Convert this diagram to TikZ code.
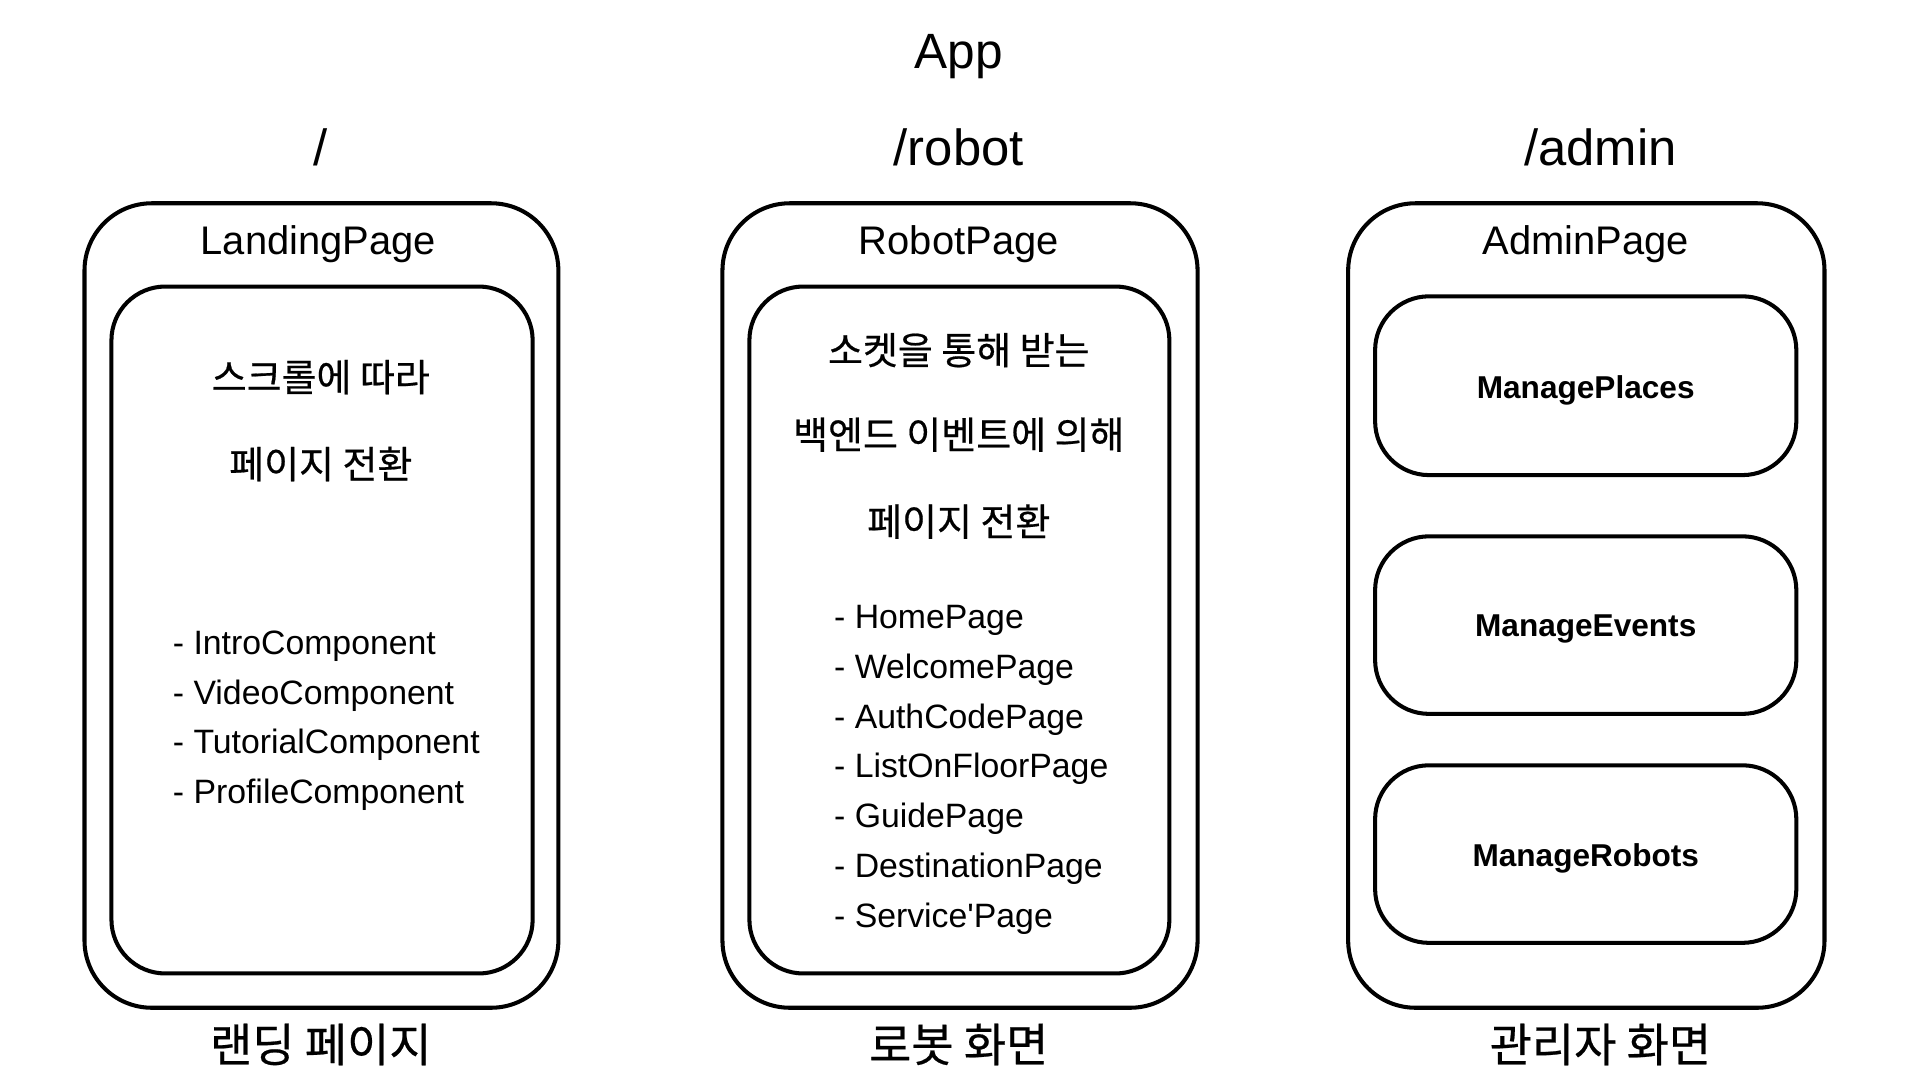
\documentclass[tikz,border=0pt]{standalone}
\usepackage{fontspec}
\setmainfont{Liberation Sans}[Ligatures=TeXOff]
\newfontfamily\kr{Noto Sans CJK KR}[FakeBold=0.5]
\begin{document}
\begin{tikzpicture}[x=1pt,y=-1pt,
  outerbox/.style={draw, line width=3.3pt, rounded corners=55pt, inner sep=0pt},
  innerbox/.style={draw, line width=3.3pt, rounded corners=44pt, inner sep=0pt},
  apptxt/.style={anchor=base, inner sep=0pt, font=\fontsize{40.5}{48}\selectfont},
  routetxt/.style={anchor=base, inner sep=0pt, font=\fontsize{41.5}{49}\selectfont},
  titletxt/.style={anchor=base, inner sep=0pt, font=\fontsize{32.6}{39}\selectfont},
  krtxt/.style={anchor=center, inner sep=0pt, font=\kr\fontsize{31}{37}\selectfont},
  krlabel/.style={anchor=center, inner sep=0pt, font=\kr\fontsize{37.5}{44}\selectfont},
  itemtxt/.style={anchor=base west, inner sep=0pt, font=\fontsize{27.6}{33}\selectfont},
  boldtxt/.style={anchor=center, inner sep=0pt, font=\bfseries\fontsize{25.8}{31}\selectfont}
]
\useasboundingbox (0,0) rectangle (1568,882);

% title
\node[apptxt] (app) at (783,56) {App};
\node[routetxt] (rroot) at (262,135) {/};
\node[routetxt] (rrobot) at (783,135) {/robot};
\node[routetxt] (radmin) at (1307,135) {/admin};

% column 1
\node[outerbox, minimum width=387pt, minimum height=657pt] (lpOuter) at (262.5,494.5) {};
\node[innerbox, minimum width=344pt, minimum height=561pt] (lpInner) at (263,514.5) {};
\node[titletxt] (lpTitle) at (260,208) {LandingPage};
\node[krtxt] (lpK1) at (262,308) {스크롤에 따라};
\node[krtxt] (lpK2) at (262,379) {페이지 전환};
\node[itemtxt] (lpI1) at (141,534.5) {- IntroComponent};
\node[itemtxt] (lpI2) at (141,575.1) {- VideoComponent};
\node[itemtxt] (lpI3) at (141,615.7) {- TutorialComponent};
\node[itemtxt] (lpI4) at (141,656.3) {- ProfileComponent};
\node[krlabel] (lpLabel) at (262,853) {랜딩 페이지};

% column 2
\node[outerbox, minimum width=388pt, minimum height=657pt] (rpOuter) at (784,494.5) {};
\node[innerbox, minimum width=343pt, minimum height=561pt] (rpInner) at (783.5,514.5) {};
\node[titletxt] (rpTitle) at (783,208) {RobotPage};
\node[krtxt] (rpK1) at (783,286) {소켓을 통해 받는};
\node[krtxt] (rpK2) at (783,355) {백엔드 이벤트에 의해};
\node[krtxt] (rpK3) at (783,426) {페이지 전환};
\node[itemtxt] (rpI1) at (681,513.5) {- HomePage};
\node[itemtxt] (rpI2) at (681,554.1) {- WelcomePage};
\node[itemtxt] (rpI3) at (681,594.7) {- AuthCodePage};
\node[itemtxt] (rpI4) at (681,635.3) {- ListOnFloorPage};
\node[itemtxt] (rpI5) at (681,675.9) {- GuidePage};
\node[itemtxt] (rpI6) at (681,716.5) {- DestinationPage};
\node[itemtxt] (rpI7) at (681,757.1) {- Service'Page};
\node[krlabel] (rpLabel) at (783,853) {로봇 화면};

% column 3
\node[outerbox, minimum width=389pt, minimum height=657pt] (apOuter) at (1295.5,494.5) {};
\node[titletxt] (apTitle) at (1295,208) {AdminPage};
\node[innerbox, minimum width=344pt, minimum height=146pt] (apPlaces) at (1295,315) {};
\node[innerbox, minimum width=344pt, minimum height=145pt] (apEvents) at (1295,510.5) {};
\node[innerbox, minimum width=344pt, minimum height=145pt] (apRobots) at (1295,697.5) {};
\node[boldtxt] (tPlaces) at ([yshift=-3.5pt]apPlaces.center) {ManagePlaces};
\node[boldtxt] (tEvents) at ([yshift=-3.5pt]apEvents.center) {ManageEvents};
\node[boldtxt] (tRobots) at ([yshift=-3.5pt]apRobots.center) {ManageRobots};
\node[krlabel] (apLabel) at (1307,853) {관리자 화면};
\end{tikzpicture}
\end{document}
